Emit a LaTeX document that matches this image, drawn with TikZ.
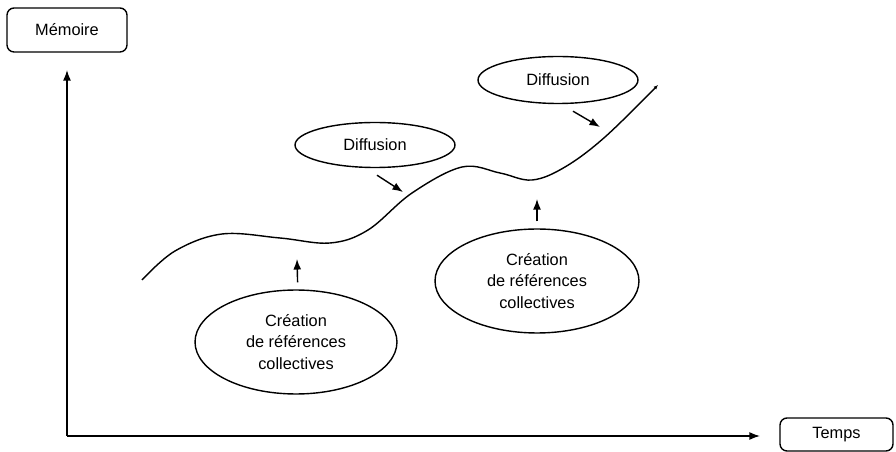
\documentclass[tikz,border=0pt]{standalone}
\usepackage{fontspec}
\setmainfont{Liberation Sans}
\usetikzlibrary{shapes.geometric,arrows.meta}

\begin{document}
\begin{tikzpicture}[>={Latex[length=6pt,width=4.5pt]}, x=0.02cm, y=-0.02cm,
		boite/.style={draw, rounded corners=4pt, line width=0.8pt, inner sep=0pt},
		bulle/.style={draw, ellipse, line width=0.8pt, inner sep=0pt, align=center},
		fleche/.style={line width=0.8pt, ->},
		every node/.style={font=\fontsize{9.3}{12}\selectfont}]

				\useasboundingbox (0,0) rectangle (896,452);

				% axes
				\node[boite, minimum width=2.4cm, minimum height=0.88cm] (memoire) at (67,30) {Mémoire};
				\node[boite, minimum width=2.26cm, minimum height=0.66cm] (temps) at (836.5,434.5) {Temps};

				\coordinate (O) at (67,436);
				\coordinate (ybout) at (67,70);
				\coordinate (xbout) at (760,436);
				\draw[fleche] (O)--(ybout);
				\draw[fleche] (O)--(xbout);

				% courbe
				\draw[line width=0.8pt, -{Latex[length=2.5pt,width=2.2pt]}]plot[smooth, tension=0.6] coordinates{(142,280)(175,251)(222,234)(280,238)(330,243)(368,230)(412,193)(462,167)(500,173)(532,180)(565,167)(605,137)(658,85)};

				% bulles
				\node[bulle, minimum width=3.2cm, minimum height=0.9cm] (diffA) at (375,145) {Diffusion};
				\node[bulle, minimum width=3.2cm, minimum height=0.94cm] (diffB) at (558,80) {Diffusion};
				\node[bulle, minimum width=4.04cm, minimum height=2.08cm] (creaA) at (296,342) {Création\\de références\\collectives};
				\node[bulle, minimum width=4.08cm, minimum height=2.08cm] (creaB) at (537,281) {Création\\de références\\collectives};

				\coordinate (pA) at (403,192);
				\coordinate (pB) at (600,127);
				\coordinate (hA) at (297,259);
				\coordinate (hB) at (537,199);

				\draw[fleche] ([shift={(2,7)}]diffA.south)--(pA);
				\draw[fleche] ([shift={(15,7)}]diffB.south)--(pB);
				\draw[fleche, shorten <=4pt] ([xshift=1]creaA.north)--(hA);
				\draw[fleche, shorten <=4pt] (creaB.north)--(hB);

\end{tikzpicture}
\end{document}
